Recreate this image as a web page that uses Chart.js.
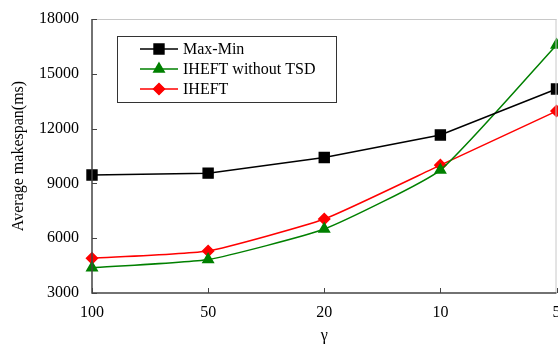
<!DOCTYPE html>
<html>
<head>
<meta charset="utf-8">
<script src="https://cdn.jsdelivr.net/npm/chart.js@4"></script>
<style>
  body { margin: 0; background: #fff; overflow: hidden; }
  #wrap { width: 558px; height: 345px; overflow: hidden; }
</style>
</head>
<body>
<div id="wrap"><canvas id="makespanChart" width="565" height="345"></canvas></div>
<script>
// data
const gammaLabels = ['100', '50', '20', '10', '5'];
const maxMin = [9460, 9560, 10420, 11650, 14170];
const iheftNoTsd = [4380, 4830, 6500, 9730, 16580];
const iheft = [4900, 5300, 7050, 10000, 12960];
const yTicks = [3000, 6000, 9000, 12000, 15000, 18000];

const serif = "'Liberation Serif', 'Times New Roman', serif";

// axis frame, inward ticks and boxed legend
const framePlugin = {
    id: 'frame',
    afterDraw(chart) {
        const c = chart.ctx;
        const a = chart.chartArea;
        c.save();
        c.lineWidth = 1;
        c.strokeStyle = '#c8c8c8';
        c.beginPath();
        c.moveTo(a.left, a.top + 0.5);
        c.lineTo(a.right, a.top + 0.5);
        c.moveTo(a.right - 0.5, a.top);
        c.lineTo(a.right - 0.5, a.bottom);
        c.stroke();

        c.strokeStyle = '#444';
        c.lineWidth = 1.5;
        c.beginPath();
        c.moveTo(a.left, a.top);
        c.lineTo(a.left, a.bottom);
        c.lineTo(a.right, a.bottom);
        c.stroke();

        c.lineWidth = 1;
        const xs = chart.scales.x, ys = chart.scales.y;
        c.beginPath();
        xs.ticks.forEach((t, i) => {
            const px = Math.round(xs.getPixelForTick(i)) + 0.5;
            c.moveTo(px, a.bottom);
            c.lineTo(px, a.bottom - 5);
        });
        ys.ticks.forEach((t, i) => {
            const py = Math.round(ys.getPixelForTick(i)) + 0.5;
            c.moveTo(a.left, py);
            c.lineTo(a.left + 5, py);
        });
        c.stroke();

        // legend box
        const bx = 117, by = 36, bw = 219, bh = 66;
        c.strokeStyle = '#333';
        c.lineWidth = 1;
        c.strokeRect(bx + 0.5, by + 0.5, bw, bh);
        c.font = '16px ' + serif;
        c.textBaseline = 'middle';
        c.fillStyle = '#000';
        chart.data.datasets.forEach((ds, i) => {
            const y = by + 13 + i * 20;
            c.strokeStyle = ds.borderColor;
            c.lineWidth = 1.5;
            c.beginPath();
            c.moveTo(140, y);
            c.lineTo(178, y);
            c.stroke();
            Chart.helpers.drawPoint(c, {
                pointStyle: ds.pointStyle,
                radius: ds.pointRadius,
                rotation: ds.pointRotation || 0,
                borderWidth: 1
            }, 159, y);
            c.fillStyle = ds.pointBackgroundColor;
            c.strokeStyle = ds.borderColor;
            c.fill();
            c.fillStyle = '#000';
            c.fillText(ds.label, 183, y + 1);
        });
        c.restore();
    }
};

const ctx = document.getElementById('makespanChart').getContext('2d');
const makespanChart = new Chart(ctx, {
    type: 'line',
    data: {
        labels: gammaLabels,
        datasets: [{
            label: 'Max-Min',
            data: maxMin,
            borderColor: '#000000',
            backgroundColor: '#000000',
            pointBackgroundColor: '#000000',
            pointStyle: 'rect',
            pointRadius: 7,
            borderWidth: 1.5,
            tension: 0
        }, {
            label: 'IHEFT without TSD',
            data: iheftNoTsd,
            borderColor: '#008000',
            backgroundColor: '#008000',
            pointBackgroundColor: '#008000',
            pointStyle: 'triangle',
            pointRadius: 6,
            borderWidth: 1.5,
            tension: 0.15
        }, {
            label: 'IHEFT',
            data: iheft,
            borderColor: '#ff0000',
            backgroundColor: '#ff0000',
            pointBackgroundColor: '#ff0000',
            pointStyle: 'rectRot',
            pointRadius: 5.5,
            borderWidth: 1.5,
            tension: 0.15
        }]
    },
    options: {
        responsive: false,
        animation: false,
        clip: false,
        layout: { padding: { top: 19, right: 0, left: 0, bottom: 0 } },
        scales: {
            x: {
                offset: false,
                grid: { display: false, drawTicks: false },
                border: { display: false },
                ticks: {
                    color: '#000',
                    padding: 10,
                    maxRotation: 0,
                    font: { size: 16, family: serif }
                },
                title: {
                    display: true,
                    text: 'γ',
                    color: '#000',
                    padding: { top: 2, bottom: 0 },
                    font: { size: 16, family: serif }
                },
                afterFit(scale) {
                    scale.height = 52;
                    scale.paddingLeft = 0;
                    scale.paddingRight = 0;
                }
            },
            y: {
                min: 3000,
                max: 18000,
                grid: { display: false, drawTicks: false },
                border: { display: false },
                afterBuildTicks(scale) {
                    scale.ticks = yTicks.map(v => ({ value: v }));
                },
                ticks: {
                    color: '#000',
                    padding: 13,
                    font: { size: 16, family: serif },
                    callback: v => String(v)
                },
                title: {
                    display: true,
                    text: 'Average makespan(ms)',
                    color: '#000',
                    padding: { top: 9, bottom: 0 },
                    font: { size: 16, family: serif }
                },
                afterFit(scale) {
                    scale.width = 92;
                    scale.paddingTop = 0;
                    scale.paddingBottom = 0;
                }
            }
        },
        plugins: {
            legend: { display: false },
            tooltip: { enabled: false }
        }
    },
    plugins: [framePlugin]
});
</script>
</body>
</html>
